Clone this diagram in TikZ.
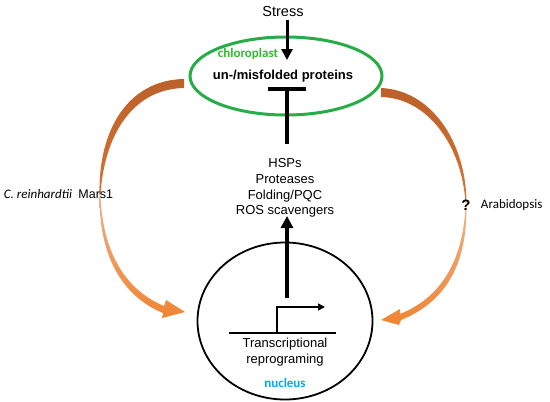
\documentclass[tikz,border=0pt]{standalone}
\usepackage{fontspec}
\setmainfont{Liberation Sans}
\newfontfamily\calibri{Carlito}
\usetikzlibrary{arrows.meta,positioning,shapes.geometric}

\definecolor{cpgreen}{RGB}{40,172,72}
\definecolor{txtgreen}{RGB}{45,190,40}
\definecolor{nucblue}{RGB}{0,170,235}
\definecolor{brownarr}{RGB}{188,96,42}
\definecolor{midarr}{RGB}{214,118,52}
\definecolor{orangearr}{RGB}{240,132,50}

\begin{document}
\begin{tikzpicture}[x=1pt,y=-1pt,>=Stealth,
  lbl/.style={inner sep=0pt,font=\fontsize{13}{15.5}\selectfont},
  organelle/.style={ellipse,draw,inner sep=0pt}]
  \useasboundingbox (0,0) rectangle (550,402);
  % retrograde arrows, left
  \shade[top color=brownarr,bottom color=midarr]
    (184,79) .. controls (128,80) and (98,130) .. (99.5,195)
    -- (100.5,195) .. controls (104,136) and (132,89) .. (184,88) -- cycle;
  \shade[top color=midarr!55!white,bottom color=orangearr]
    (99.5,196) .. controls (99,256) and (122,296) .. (163,313)
    -- (162,318) -- (185,312) -- (166,300) -- (164,306)
    .. controls (128,291) and (103,256) .. (100.5,196) -- cycle;
  % retrograde arrows, right
  \shade[top color=brownarr,bottom color=midarr]
    (381,88) .. controls (430,90) and (466,140) .. (466.5,203)
    -- (465.5,203) .. controls (462,146) and (428,98) .. (381,97) -- cycle;
  \shade[top color=midarr!55!white,bottom color=orangearr]
    (466.5,206) .. controls (467,266) and (445,302) .. (401,320)
    -- (399,325) -- (381,320) -- (400,309) -- (400,314)
    .. controls (440,298) and (463,262) .. (465.5,206) -- cycle;
  % compartments
  \node[organelle,cpgreen,line width=3pt,minimum width=192pt,minimum height=78pt] (chloro) at (286,76) {};
  \node[organelle,line width=1.8pt,minimum width=175pt,minimum height=157pt] (nucleus) at (285,321) {};
  % texts
  \node[lbl,font=\fontsize{14.5}{17}\selectfont] (stress) at (283,12) {Stress};
  \node[lbl,font=\calibri\bfseries\fontsize{13}{15}\selectfont,text=txtgreen] (cplabel) at (248,54) {chloroplast};
  \node[lbl,font=\bfseries\fontsize{13}{15}\selectfont] (misfolded) at (283,76) {un-/misfolded proteins};
  \node[lbl,align=center,font=\fontsize{13}{15.7}\selectfont] (hsps) at (285,188) {HSPs\\Proteases\\Folding/PQC\\ROS scavengers};
  \node[lbl,align=center,font=\fontsize{13}{16.5}\selectfont] (reprog) at (285,352) {Transcriptional\\reprograming};
  \node[lbl,font=\calibri\bfseries\fontsize{13}{15}\selectfont,text=nucblue] (nuclabel) at (285,383) {nucleus};
  \node[lbl,font=\calibri\itshape\fontsize{13}{15}\selectfont] (chlamy) at (38,194) {C. reinhardtii};
  \node[lbl,font=\fontsize{12.5}{15}\selectfont,right=6pt of chlamy] (mars) {Mars1};
  \node[lbl,font=\bfseries\fontsize{15}{17}\selectfont] (unknown) at (466,205) {?};
  \node[lbl,font=\calibri\fontsize{13}{15}\selectfont,right=10pt of unknown] (arabid) {Arabidopsis};
  % connector ends
  \coordinate (stresstip) at (287,60);
  \coordinate (bar) at (287,87);
  \coordinate (hspsbase) at (287,144);
  \coordinate (inducer) at (287,298);
  \coordinate (hspstip) at (287,216);
  \coordinate (genel) at (229,333);
  \coordinate (gener) at (336,333);
  \coordinate (tss) at (277,333);
  \coordinate (tsstip) at (325,307);
  % signalling
  \draw[line width=3pt,-{Triangle[length=11pt,width=11pt]}] (stress.south -| stresstip) ++(0,3) -- (stresstip);
  \draw[line width=3.5pt,-{Bar[width=38pt,line width=4pt]}] (hspsbase) -- (bar);
  \draw[line width=3.5pt,-{Triangle[length=12pt,width=12pt]}] (inducer) -- (hspstip);
  \draw[line width=2.5pt] (genel) -- (gener);
  \draw[line width=1.6pt,-{Triangle[length=7pt,width=7pt]}] (tss) |- (tsstip);
\end{tikzpicture}
\end{document}
